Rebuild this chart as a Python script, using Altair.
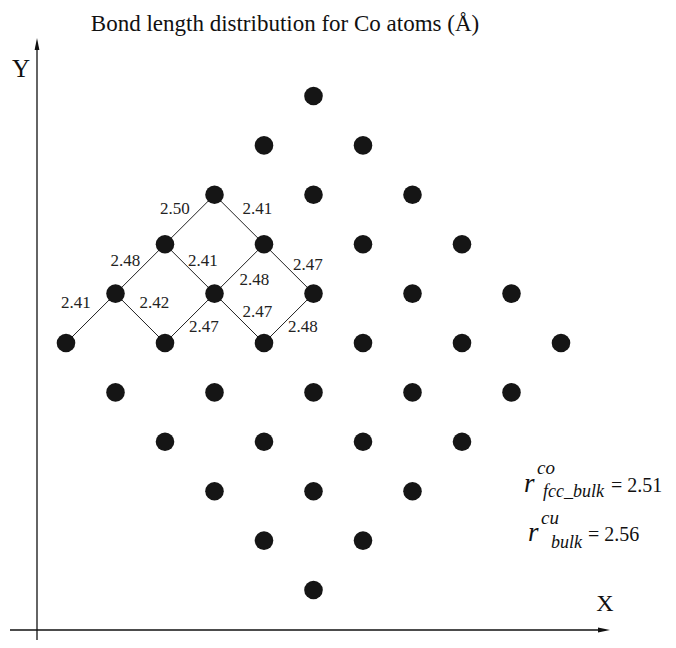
import altair as alt
import pandas as pd

# ---- data ----
# atoms on the lattice: column index i, row index j
atom_i = [5, 4, 6, 3, 5, 7, 2, 4, 6, 8, 1, 3, 5, 7, 9, 0, 2, 4, 6, 8, 10,
          1, 3, 5, 7, 9, 2, 4, 6, 8, 3, 5, 7, 4, 6, 5]
atom_j = [5, 4, 4, 3, 3, 3, 2, 2, 2, 2, 1, 1, 1, 1, 1, 0, 0, 0, 0, 0, 0,
          -1, -1, -1, -1, -1, -2, -2, -2, -2, -3, -3, -3, -4, -4, -5]

# Co-Co bonds and their lengths
bond_i1 = [0, 1, 2, 3, 4, 1, 2, 3, 2, 3, 4]
bond_j1 = [0, 1, 2, 3, 2, 1, 2, 1, 0, 1, 0]
bond_i2 = [1, 2, 3, 4, 5, 2, 3, 4, 3, 4, 5]
bond_j2 = [1, 2, 3, 2, 1, 0, 1, 2, 1, 0, 1]
bond_len = ["2.41", "2.48", "2.50", "2.41", "2.47", "2.42",
            "2.41", "2.48", "2.47", "2.47", "2.48"]
# label offset from bond midpoint (pixels)
lab_dx = [-15, -15, -15, 18, 19, 14, 13, 15, 14, 18, 14]
lab_dy = [-15, -8, -11, -11, -4, -15, -8, 11, 9, -6, 9]

title_text = "Bond length distribution for Co atoms (Å)"

# ---- geometry ----
W, H = 660, 632
SX, SY = 49.5, 49.4          # pixels per lattice step
X0, Y0 = 58, 335             # pixel of lattice origin
xs = alt.Scale(domain=[-X0 / SX, (W - X0) / SX], nice=False, zero=False)
ys = alt.Scale(domain=[(Y0 - H) / SY, Y0 / SY], nice=False, zero=False)
FONT = "Liberation Serif"

atoms = pd.DataFrame({"i": atom_i, "j": atom_j})
bonds = pd.DataFrame({
    "i1": bond_i1, "j1": bond_j1, "i2": bond_i2, "j2": bond_j2,
    "len": bond_len, "dx": lab_dx, "dy": lab_dy,
})
one = pd.DataFrame({"k": [0]})

dots = alt.Chart(atoms).mark_circle(size=345, color="#151515", opacity=1).encode(
    x=alt.X("i:Q", scale=xs, axis=None),
    y=alt.Y("j:Q", scale=ys, axis=None),
)

lines = alt.Chart(bonds).mark_rule(color="#222222", strokeWidth=1).encode(
    x=alt.X("i1:Q", scale=xs, axis=None),
    y=alt.Y("j1:Q", scale=ys, axis=None),
    x2="i2:Q",
    y2="j2:Q",
)

labels = alt.Chart(bonds).transform_calculate(
    lx=f"(datum.i1 + datum.i2) / 2 + datum.dx / {SX}",
    ly=f"(datum.j1 + datum.j2) / 2 - datum.dy / {SY}",
).mark_text(font=FONT, fontSize=17, color="#222222", align="center", baseline="middle").encode(
    x=alt.X("lx:Q", scale=xs, axis=None),
    y=alt.Y("ly:Q", scale=ys, axis=None),
    text="len:N",
)


def txt(s, x, y, size, align="left", style="normal"):
    return alt.Chart(pd.DataFrame({"t": [s]})).mark_text(
        font=FONT, fontSize=size, fontStyle=style, align=align,
        baseline="alphabetic", color="#111111",
    ).encode(x=alt.value(x), y=alt.value(y), text="t:N")


# axes drawn as arrows
yaxis = alt.Chart(one).mark_rule(color="#111111", strokeWidth=1.3).encode(
    x=alt.value(29), y=alt.value(38), y2=alt.value(645))
xaxis = alt.Chart(one).mark_rule(color="#111111", strokeWidth=1.3).encode(
    x=alt.value(2), x2=alt.value(596), y=alt.value(622))
arrow_up = alt.Chart(one).mark_point(
    shape="M0,-1L-0.4,1L0.4,1Z", size=144, filled=True, color="#111111", opacity=1
).encode(x=alt.value(29), y=alt.value(36))
arrow_right = alt.Chart(one).mark_point(
    shape="M1,0L-1,-0.4L-1,0.4Z", size=144, filled=True, color="#111111", opacity=1
).encode(x=alt.value(596), y=alt.value(622))

layers = [
    lines, dots, labels, yaxis, xaxis, arrow_up, arrow_right,
    txt(title_text, 277, 23, 23, align="center"),
    txt("Y", 13, 69, 25, align="center"),
    txt("X", 597, 603, 24, align="center"),
    txt("r", 516, 484, 27, style="italic"),
    txt("co", 529, 466, 19, style="italic"),
    txt("fcc_bulk", 535, 489, 18, style="italic"),
    txt("= 2.51", 603, 484, 20),
    txt("r", 520, 533, 27, style="italic"),
    txt("cu", 533, 516, 19, style="italic"),
    txt("bulk", 543, 540, 18, style="italic"),
    txt("= 2.56", 580, 533, 20),
]

chart = alt.layer(*layers).properties(
    width=W, height=H, padding=0,
    autosize=alt.AutoSizeParams(type="none"),
).configure_view(stroke=None)

chart.save("out.html", embed_options={"renderer": "svg", "actions": False})
